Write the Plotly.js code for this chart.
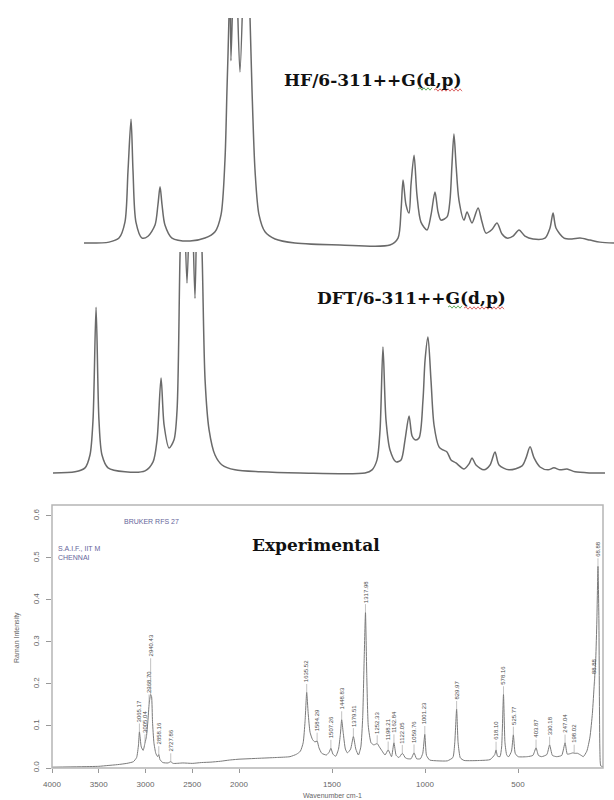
<!DOCTYPE html>
<html>
<head>
<meta charset="utf-8">
<script src="https://cdn.plot.ly/plotly-3.0.1.min.js"></script>
<style>html,body{margin:0;padding:0;background:#fff}#chart{width:614px;height:800px}</style>
</head>
<body>
<div id="chart"></div>
<script>
// ---- HF/6-311++G(d,p) simulated spectrum (wavenumber, relative intensity) ----
var hfWn = [4000,3811,3736,3691,3668,3645,3630,3608,3562,3517,3464,3442,3426,3411,3389,3336,3200,3087,3011,2966,2936,2921,2906,2898,2891,2860,2823,2777,2747,2732,2709,2679,2634,2558,2408,2068,1691,1630,1607,1592,1570,1547,1532,1509,1487,1457,1411,1381,1351,1328,1306,1260,1238,1223,1208,1192,1170,1132,1109,1072,1026,996,966,921,883,845,808,762,717,672,611,521,483,460,438,377,317,257,181,106,0];
var hfInt = [0,0.004,0.022,0.093,0.32,0.55,0.32,0.093,0.022,0.03,0.08,0.17,0.25,0.17,0.08,0.022,0.009,0.022,0.05,0.125,0.37,0.68,1.0,1.35,0.81,1.4,0.76,1.5,1.0,0.68,0.32,0.125,0.05,0.018,0,-0.009,-0.009,0.022,0.147,0.28,0.17,0.133,0.26,0.39,0.213,0.093,0.058,0.125,0.227,0.138,0.102,0.116,0.19,0.347,0.484,0.347,0.19,0.102,0.138,0.089,0.156,0.093,0.044,0.06,0.089,0.04,0.022,0.031,0.058,0.031,0.018,0.022,0.067,0.133,0.067,0.022,0.018,0.022,0.013,0.004,0];

// ---- DFT/6-311++G(d,p) simulated spectrum ----
var dftWn = [4000,3840,3768,3732,3710,3688,3667,3645,3601,3478,3333,3275,3246,3217,3195,3159,3123,3101,3079,3058,3029,3000,2971,2949,2920,2898,2869,2826,2775,2681,2500,2210,1739,1688,1652,1630,1609,1587,1558,1514,1478,1449,1420,1398,1377,1348,1319,1304,1283,1261,1239,1203,1174,1145,1116,1080,1022,985,964,935,877,833,797,768,696,601,572,543,514,471,413,370,326,275,217,109,0];
var dftInt = [0,0.005,0.023,0.081,0.24,0.75,0.24,0.081,0.023,0.005,0.009,0.05,0.15,0.43,0.217,0.113,0.15,0.285,1.0,1.4,0.86,1.4,0.79,1.5,1.0,0.42,0.195,0.081,0.036,0.014,0.005,0,0,0.014,0.059,0.195,0.57,0.24,0.104,0.05,0.059,0.15,0.258,0.167,0.15,0.158,0.33,0.51,0.615,0.42,0.217,0.118,0.104,0.095,0.059,0.045,0.018,0.041,0.068,0.036,0.014,0.036,0.095,0.036,0.014,0.032,0.068,0.118,0.068,0.027,0.014,0.023,0.014,0.018,0.005,0,0];

// ---- Experimental Raman spectrum, 4000-2000 cm-1 (compressed scale) ----
var expHiWn = [4000,3700,3500,3400,3300,3200,3130,3095,3075,3065,3045,3025,3005,2990,2975,2960,2945,2935,2925,2910,2890,2870,2858,2845,2815,2760,2730,2705,2600,2500,2400,2300,2200,2100,2000];
var expHiInt = [0.002,0.003,0.004,0.006,0.008,0.011,0.015,0.025,0.055,0.086,0.05,0.042,0.06,0.075,0.11,0.155,0.175,0.17,0.11,0.06,0.035,0.027,0.032,0.02,0.013,0.012,0.015,0.011,0.012,0.011,0.013,0.014,0.016,0.019,0.021];

// ---- Experimental Raman spectrum, 2000-43 cm-1 ----
var expLoWn = [2000,1900,1800,1726,1690,1670,1655,1645,1636,1628,1618,1605,1592,1580,1570,1555,1530,1515,1506,1495,1480,1465,1455,1448,1440,1428,1417,1400,1385,1372,1358,1345,1335,1327,1320,1313,1305,1290,1275,1257,1245,1230,1215,1198,1180,1167,1155,1140,1122,1105,1093,1075,1059,1045,1025,1012,1001,992,975,930,880,850,840,830,822,810,790,700,650,625,618,610,597,588,578,570,560,550,535,525,515,500,450,420,403,390,373,345,330,315,292,265,247,235,220,205,195,180,160,149,130,113,100,90,82,76,70,65,60,55,43];
var expLoInt = [0.021,0.023,0.025,0.027,0.033,0.04,0.06,0.11,0.18,0.13,0.085,0.068,0.062,0.064,0.048,0.035,0.031,0.038,0.047,0.033,0.028,0.045,0.08,0.115,0.085,0.045,0.036,0.045,0.075,0.045,0.031,0.05,0.12,0.26,0.37,0.22,0.1,0.06,0.055,0.058,0.05,0.04,0.031,0.043,0.027,0.06,0.03,0.025,0.035,0.024,0.022,0.022,0.036,0.022,0.022,0.035,0.08,0.03,0.019,0.017,0.017,0.025,0.06,0.14,0.06,0.024,0.018,0.018,0.02,0.032,0.043,0.028,0.027,0.05,0.175,0.06,0.03,0.027,0.04,0.079,0.035,0.027,0.027,0.03,0.048,0.03,0.027,0.032,0.055,0.03,0.027,0.03,0.06,0.033,0.034,0.036,0.035,0.035,0.03,0.027,0.04,0.074,0.13,0.2,0.26,0.35,0.48,0.35,0.05,0.005,0.003];

// ---- peak labels (wavenumber, intensity at label foot, text, stack level) ----
var hiPeakWn  = [3065, 3005, 2962, 2945, 2858, 2730];
var hiPeakInt = [0.086, 0.06, 0.155, 0.175, 0.032, 0.015];
var hiPeakTxt = ['3065.17','3005.04','2968.70','2940.43','2858.16','2727.86'];
var hiPeakLvl = [0, 0, 0, 1, 0, 0];

var loPeakWn  = [1636,1580,1506,1448,1385,1320,1257,1198,1167,1122,1059,1001,830,618,578,525,403,330,247,198,88,70];
var loPeakInt = [0.18,0.064,0.047,0.115,0.075,0.37,0.058,0.043,0.06,0.035,0.036,0.08,0.14,0.043,0.175,0.079,0.048,0.055,0.06,0.036,0.2,0.48];
var loPeakTxt = ['1635.52','1584.29','1507.26','1448.83','1379.51','1317.98','1252.33','1198.21','1162.84','1122.05','1059.76','1001.23','829.97','618.10','578.16','525.77','403.87','330.18','247.04','198.02','88.88','68.88'];

var yTicks = [0, 0.1, 0.2, 0.3, 0.4, 0.5, 0.6];
var hiTicks = [4000, 3500, 3000, 2500, 2000];
var loTicks = [1500, 1000, 500];

var W = 614, H = 800;
function px(x){return x/W;}
function py(y){return 1 - y/H;}

var simLine = {color:'#6a6a6a', width:1.5, shape:'spline', smoothing:0.8};
var expLine = {color:'#7a7a7a', width:1, shape:'spline', smoothing:0.5};

var traces = [
  {x:hfWn, y:hfInt, xaxis:'x', yaxis:'y', mode:'lines', line:simLine, hoverinfo:'skip'},
  {x:dftWn, y:dftInt, xaxis:'x2', yaxis:'y2', mode:'lines', line:simLine, hoverinfo:'skip'},
  {x:expHiWn, y:expHiInt, xaxis:'x3', yaxis:'y3', mode:'lines', line:expLine, hoverinfo:'skip'},
  {x:expLoWn, y:expLoInt, xaxis:'x4', yaxis:'y3', mode:'lines', line:expLine, hoverinfo:'skip'}
];

var hidden = {visible:false, fixedrange:true};
var tickFont = {family:'Liberation Sans, Arial, sans-serif', size:8, color:'#666'};
var serif = 'DejaVu Serif, serif';
var sans = 'Liberation Sans, Arial, sans-serif';

function paperText(txt, x, y, font, extra){
  var a = {text:txt, xref:'paper', yref:'paper', x:px(x), y:py(y), xanchor:'center', yanchor:'middle',
           showarrow:false, font:font};
  return Object.assign(a, extra || {});
}

var annotations = [
  paperText('<b>HF/6-311++G(d,p)</b>', 373, 80, {family:serif, size:17, color:'#111'}),
  paperText('<b>DFT/6-311++G(d,p)</b>', 411, 298, {family:serif, size:17, color:'#111'}),
  paperText('<b>Experimental</b>', 316, 545, {family:serif, size:17, color:'#111'}),
  paperText('BRUKER RFS 27', 122, 521, {family:sans, size:7, color:'#66669a'}, {xanchor:'left'}),
  paperText('S.A.I.F., IIT M<br>CHENNAI', 56, 553, {family:sans, size:7, color:'#66669a'}, {xanchor:'left', align:'left'}),
  paperText('Wavenumber cm-1', 332, 795, {family:sans, size:7, color:'#666'}),
  paperText('Raman Intensity', 17, 638, {family:sans, size:7, color:'#666'}, {textangle:-90})
];

function peakLabel(xref, wn, val, txt, lvl){
  var half = txt.length * 1.7;
  return {x:wn, y:val, xref:xref, yref:'y3', text:txt, textangle:-90, showarrow:true,
    arrowhead:0, arrowwidth:0.6, arrowcolor:'#9a9a9a', ax:0, ay:-(half + 9 + lvl*2*half + lvl*4),
    font:{family:sans, size:6, color:'#4a4a4a'}};
}
for (var i=0;i<hiPeakWn.length;i++) annotations.push(peakLabel('x3', hiPeakWn[i], hiPeakInt[i], hiPeakTxt[i], hiPeakLvl[i]));
for (var j=0;j<loPeakWn.length;j++) annotations.push(peakLabel('x4', loPeakWn[j], loPeakInt[j], loPeakTxt[j], 0));

// spell-check style wavy underlines under "G(d,p)" in the two method labels
function wavy(x0, x1, y, color){
  var d = 'M' + px(x0) + ',' + py(y);
  var up = true;
  for (var x = x0 + 2; x <= x1; x += 2){
    d += ' L' + px(x) + ',' + py(y + (up ? -1.2 : 1.2));
    up = !up;
  }
  return {type:'path', xref:'paper', yref:'paper', path:d, line:{color:color, width:0.8}, layer:'above'};
}

var layout = {
  width:W, height:H, margin:{l:0,r:0,t:0,b:0,pad:0},
  paper_bgcolor:'#fff', plot_bgcolor:'rgba(0,0,0,0)', showlegend:false,
  xaxis:Object.assign({domain:[px(84),1], range:[4000,0], anchor:'y'}, hidden),
  yaxis:Object.assign({domain:[py(250),py(18)], range:[-0.031,1.0], anchor:'x'}, hidden),
  xaxis2:Object.assign({domain:[px(53),px(605)], range:[4000,0], anchor:'y2'}, hidden),
  yaxis2:Object.assign({domain:[py(480),py(252)], range:[-0.032,1.0], anchor:'x2'}, hidden),
  xaxis3:{domain:[px(52),px(239)], range:[4000,2000], anchor:'y3', showgrid:false, zeroline:false, showline:false,
    ticks:'outside', ticklen:4, tickcolor:'#999', tickvals:hiTicks, ticktext:hiTicks.map(String), tickfont:tickFont,
    ticklabelstandoff:4, fixedrange:true},
  xaxis4:{domain:[px(239),px(603)], range:[2000,43], anchor:'y3', showgrid:false, zeroline:false, showline:false,
    ticks:'outside', ticklen:4, tickcolor:'#999', tickvals:loTicks, ticktext:loTicks.map(String), tickfont:tickFont,
    ticklabelstandoff:4, fixedrange:true},
  yaxis3:{domain:[py(768),py(505)], range:[0,0.626], anchor:'x3', showgrid:false, zeroline:false, showline:false,
    ticks:'outside', ticklen:5, tickcolor:'#999', tickvals:yTicks, ticktext:yTicks.map(function(v){return v.toFixed(1);}),
    tickangle:-90, tickfont:tickFont, ticklabelstandoff:4, fixedrange:true},
  shapes:[
    {type:'rect', xref:'paper', yref:'paper', x0:px(52), x1:px(603), y0:py(768), y1:py(505),
     line:{color:'#b5b5b5', width:1.5}, layer:'above'},
    wavy(418, 432, 89, '#3a9a3a'), wavy(434, 462, 90, '#d04040'),
    wavy(448, 462, 307, '#3a9a3a'), wavy(464, 504, 308, '#d04040')
  ],
  annotations:annotations
};

Plotly.newPlot('chart', traces, layout, {staticPlot:true, displayModeBar:false});
</script>
</body>
</html>
